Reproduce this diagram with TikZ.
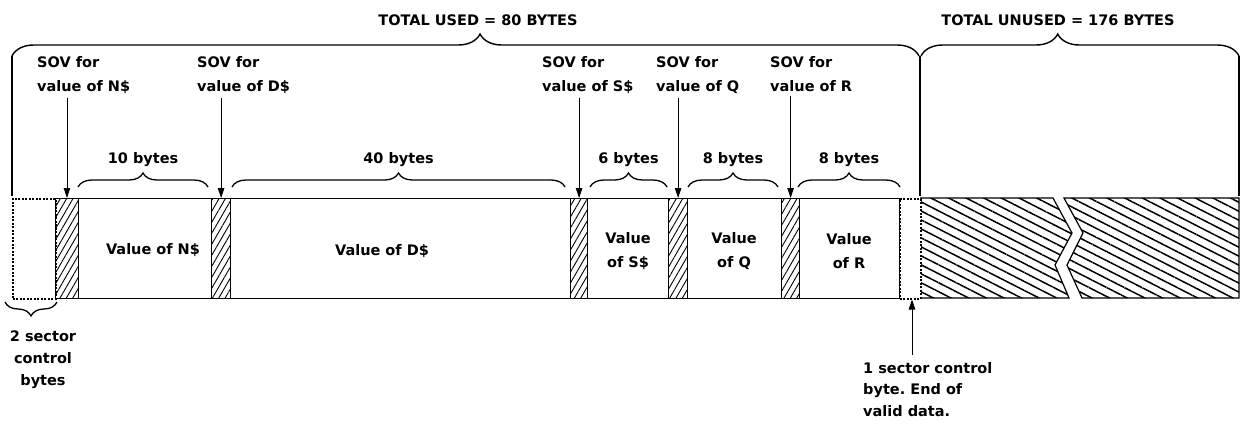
\documentclass[tikz,border=0pt]{standalone}
\usepackage{fontspec}
\setmainfont{DejaVu Sans}
\usetikzlibrary{patterns.meta,decorations.pathreplacing,arrows.meta}
\frenchspacing

\begin{document}
\begin{tikzpicture}[x=1pt,y=-1pt,
  txt/.style={font=\bfseries\fontsize{14.5}{24}\selectfont, inner sep=0pt},
  cellbox/.style={draw, line width=1.2pt, inner sep=0pt, minimum height=100pt, anchor=north west},
  sovbox/.style={cellbox, pattern={Lines[angle=60,distance=5.5pt,line width=0.9pt]}},
  ctlbox/.style={draw, dash pattern=on 2pt off 1.5pt, line width=1.5pt, inner sep=0pt, minimum height=100pt, anchor=north west},
  arr/.style={-{Triangle[length=10pt,width=6.5pt]}, line width=0.9pt},
  smallbrace/.style={decorate, decoration={brace, amplitude=14pt}, line width=1.3pt},
  bigbrace/.style={decorate, decoration={brace, amplitude=22pt, aspect=#1}, line width=1.4pt},
  unusedhatch/.style={pattern={Lines[angle=-27,distance=8pt,line width=1.5pt]}},
]
\useasboundingbox[fill=white] (0,0) rectangle (1241,424);

% ---- bar cells ----
\node[ctlbox, minimum width=43pt] (ctlL) at (12,198) {};
\node[sovbox, minimum width=23pt] (s1) at (55,198) {};
\node[cellbox, minimum width=133pt] (vN) at (78,198) {};
\node[sovbox, minimum width=19pt] (s2) at (211,198) {};
\node[cellbox, minimum width=340pt] (vD) at (230,198) {};
\node[sovbox, minimum width=17pt] (s3) at (570,198) {};
\node[cellbox, minimum width=81pt] (vS) at (587,198) {};
\node[sovbox, minimum width=19pt] (s4) at (668,198) {};
\node[cellbox, minimum width=94pt] (vQ) at (687,198) {};
\node[sovbox, minimum width=18pt] (s5) at (781,198) {};
\node[cellbox, minimum width=100pt] (vR) at (799,198) {};

% ---- unused area with break ----
\path[unusedhatch] (920,198) -- (1053,198) -- (1072,233) -- (1055,265) -- (1069,298) -- (920,298) -- cycle;
\draw[line width=1.2pt] (920,198) -- (1053,198) -- (1072,233) -- (1055,265) -- (1069,298) -- (920,298);
\draw[line width=1.2pt, unusedhatch] (1064,198) -- (1083,233) -- (1067,265) -- (1082,298) -- (1239,298) -- (1239,198) -- cycle;

\node[ctlbox, minimum width=21pt, fill=white] (ctlR) at (899,198) {};

% ---- value texts ----
\node[txt] (tN) at (153,250) {Value of N\$};
\node[txt] (tD) at (382,251) {Value of D\$};
\node[txt, align=center] (tS) at (628,251) {Value\\of S\$};
\node[txt, align=center] (tQ) at (734,251) {Value\\of Q};
\node[txt, align=center] (tR) at (849,251) {Value\\of R};

% ---- byte braces ----
\draw[smallbrace] (78,187) -- node[txt, above=20pt] (b10) {10 bytes} (208,187);
\draw[smallbrace] (232,187) -- node[txt, above=20pt] (b40) {40 bytes} (565,187);
\draw[smallbrace] (590,187) -- node[txt, above=20pt] (b6) {6 bytes} (667,187);
\draw[smallbrace] (688,187) -- node[txt, above=20pt] (b8a) {8 bytes} (778,187);
\draw[smallbrace] (798,187) -- node[txt, above=20pt] (b8b) {8 bytes} (900,187);

% ---- big braces ----
\draw[bigbrace=0.516] (12,56) -- (919,56);
\draw[bigbrace=0.43] (921,56) -- (1239,56);
\draw[line width=1.4pt] (12,56) -- (12,196);
\draw[line width=1.4pt] (920,56) -- (920,196);
\draw[line width=1.4pt] (1239,56) -- (1239,196);
\node[txt] (totU) at (478,20) {TOTAL USED = 80 BYTES};
\node[txt] (totN) at (1058,20) {TOTAL UNUSED = 176 BYTES};

% ---- SOV labels and arrows ----
\node[txt, align=left, anchor=north west] (lN) at (37,56) {SOV for\\value of N\$};
\node[txt, align=left, anchor=north west] (lD) at (197,56) {SOV for\\value of D\$};
\node[txt, align=left, anchor=north west] (lS) at (542,56) {SOV for\\value of S\$};
\node[txt, align=left, anchor=north west] (lQ) at (656,56) {SOV for\\value of Q};
\node[txt, align=left, anchor=north west] (lR) at (770,56) {SOV for\\value of R};
\draw[arr, shorten <=4pt] (s1.north |- lN.south) -- (s1.north);
\draw[arr, shorten <=4pt] (s2.north |- lD.south) -- (s2.north);
\draw[arr, shorten <=4pt] (s3.north |- lS.south) -- (s3.north);
\draw[arr, shorten <=4pt] (s4.north |- lQ.south) -- (s4.north);
\draw[arr, shorten <=4pt] (s5.north |- lR.south) -- (s5.north);

% ---- bottom labels ----
\draw[smallbrace] (57,302) -- (5,302);
\node[txt, align=center, anchor=north, font=\bfseries\fontsize{14.5}{22}\selectfont] (ctl2) at (43,331) {2 sector\\control\\bytes};
\node[txt, align=left, anchor=north west, font=\bfseries\fontsize{14.5}{21.5}\selectfont] (ctl1) at (863,362) {1 sector control\\byte. End of\\valid data.};
\coordinate (ea) at (912,355);
\draw[arr] (ea) -- (ea |- ctlR.south);
\end{tikzpicture}
\end{document}
